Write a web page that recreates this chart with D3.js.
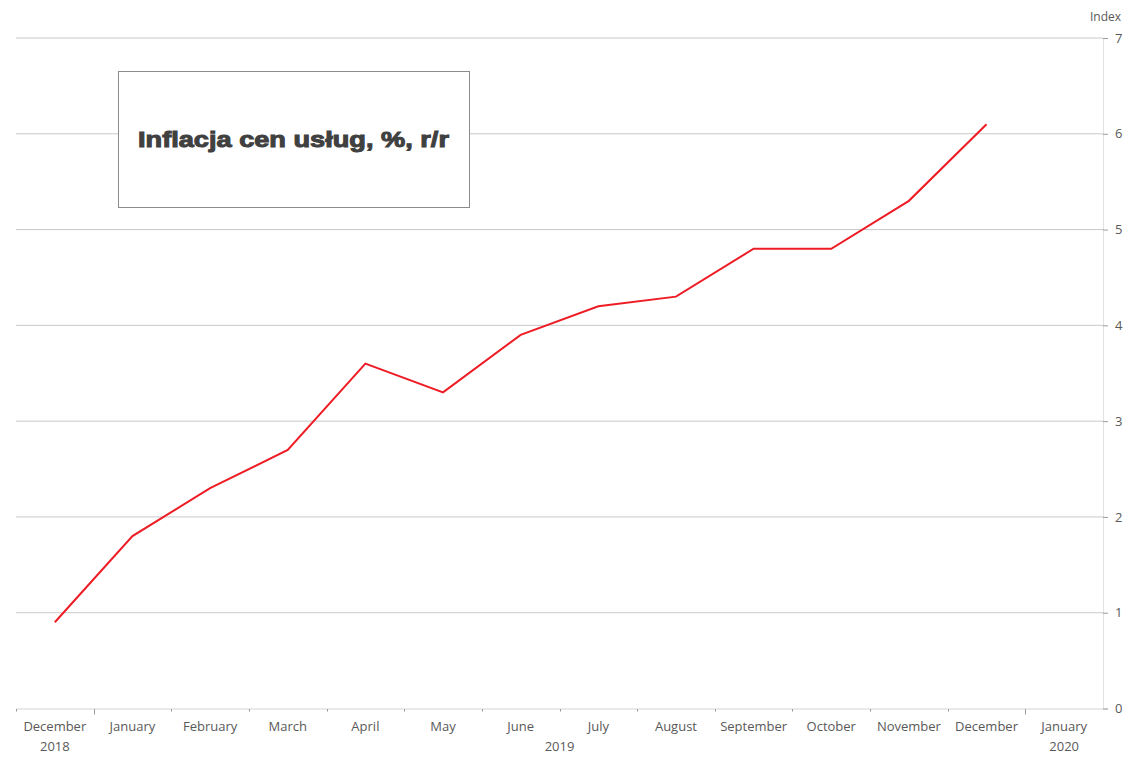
<!DOCTYPE html>
<html><head><meta charset="utf-8">
<script src="https://cdn.jsdelivr.net/npm/d3@7"></script>
<style>body{margin:0;background:#fff}svg{display:block}text{font-family:"Open Sans",sans-serif}</style>
</head><body><svg id="c" width="1130" height="768"></svg>
<script>
const months = ["December","January","February","March","April","May","June","July","August","September","October","November","December","January"];
const years = ["2018","2019","2019","2019","2019","2019","2019","2019","2019","2019","2019","2019","2019","2020"];
const values = [0.9,1.8,2.3,2.7,3.6,3.3,3.9,4.2,4.3,4.8,4.8,5.3,6.1];
const yTicks = [0,1,2,3,4,5,6,7];
const title = "Inflacja cen usług, %, r/r";
const yAxisTitle = "Index";

(function(){
const svg = d3.select("#c");
const pL = 16, pR = 1103, pT = 38, pB = 708.5;
const x = d3.scaleBand().domain(d3.range(months.length)).range([pL, pR]);
const y = d3.scaleLinear().domain([0,7]).range([pB, pT]);

// gridlines
svg.append("g").selectAll("line").data(yTicks.filter(d=>d>0)).join("line")
  .attr("x1", pL).attr("x2", pR).attr("y1", d=>y(d)).attr("y2", d=>y(d))
  .attr("stroke", "#c9c9c9").attr("stroke-width", 1);

// y axis on right
const ya = svg.append("g").attr("transform", `translate(${pR},0)`)
  .call(d3.axisRight(y).tickValues(yTicks).tickSize(5).tickPadding(7).tickFormat(d3.format("d")));
ya.select(".domain").attr("stroke", "#e2e2e2");
ya.selectAll(".tick line").attr("stroke", "#9a9a9a");
ya.selectAll(".tick text").attr("fill", "#595959").style("font-size", "13px").style("font-family", "Open Sans");
svg.append("text").attr("x", 1121).attr("y", 21).attr("text-anchor", "end")
  .attr("fill", "#595959").style("font-size", "12px").text(yAxisTitle);

// x axis
svg.append("line").attr("x1", pL).attr("x2", pR).attr("y1", pB+0.5).attr("y2", pB+0.5)
  .attr("stroke", "#d4d4d4");
const bounds = d3.range(months.length).map(i => x(i));
svg.append("g").selectAll("line").data(bounds).join("line")
  .attr("x1", d=>Math.round(d)+0.5).attr("x2", d=>Math.round(d)+0.5)
  .attr("y1", pB+0.5)
  .attr("y2", (d,i) => (i>0 && years[i]!==years[i-1]) ? pB+6 : pB+3)
  .attr("stroke", "#9a9a9a");
svg.append("g").selectAll("text").data(months).join("text")
  .attr("x", (d,i)=>x(i)+x.bandwidth()/2).attr("y", 731).attr("text-anchor","middle")
  .attr("fill","#595959").style("font-size","13px").text(d=>d);
// year groups
const groups = d3.groups(years.map((yr,i)=>({yr,i})), d=>d.yr).map(([yr, arr]) => ({
  yr, x0: x(arr[0].i), x1: x(arr[arr.length-1].i) + x.bandwidth()
}));
svg.append("g").selectAll("text").data(groups).join("text")
  .attr("x", d=>(d.x0+d.x1)/2).attr("y", 751).attr("text-anchor","middle")
  .attr("fill","#595959").style("font-size","13px").text(d=>d.yr);

// line
const line = d3.line().x((d,i)=>x(i)+x.bandwidth()/2).y(d=>y(d));
svg.append("path").datum(values).attr("d", line).attr("fill","none")
  .attr("stroke","#ee1c25").attr("stroke-width",2).attr("stroke-linejoin","miter");

// title box
svg.append("rect").attr("x",118.5).attr("y",71.5).attr("width",351).attr("height",136)
  .attr("fill","#fff").attr("stroke","#8c8c8c").attr("stroke-width",1);
svg.append("text").attr("x",293.5).attr("y",146.5).attr("text-anchor","middle")
  .attr("fill","#404040").style("font-family","'Liberation Sans', Arial, sans-serif")
  .style("font-weight","bold").style("font-size","22px")
  .attr("stroke","#404040").attr("stroke-width",1)
  .attr("textLength",311).attr("lengthAdjust","spacingAndGlyphs")
  .text(title);
})();
</script></body></html>
